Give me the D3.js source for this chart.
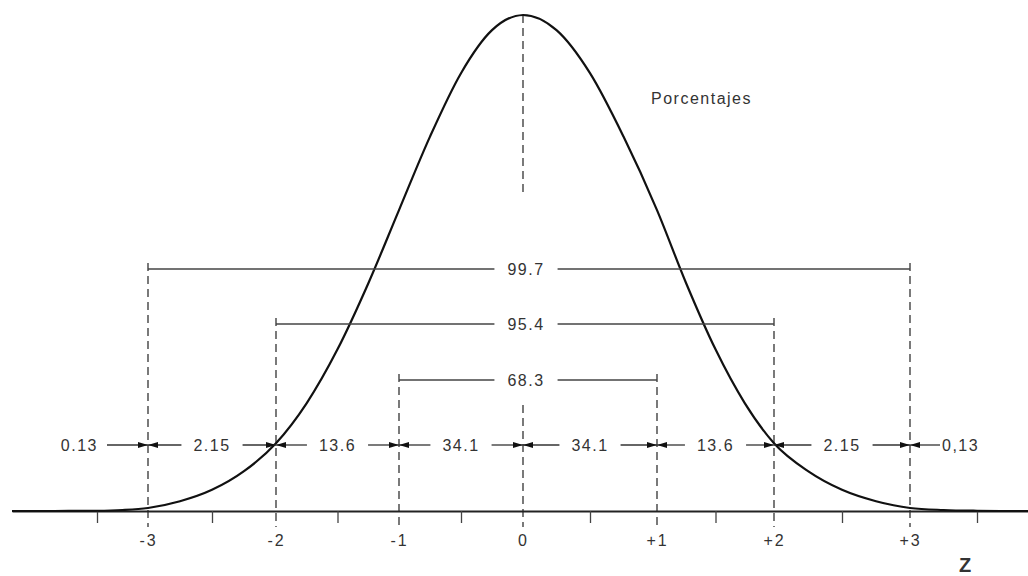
<!DOCTYPE html>
<html>
<head>
<meta charset="utf-8">
<script src="https://cdn.jsdelivr.net/npm/d3@7"></script>
<style>
  body { margin: 0; background: #fff; }
  text { font-family: "Liberation Sans", Arial, sans-serif; fill: #333; }
</style>
</head>
<body>
<svg id="chart" width="1028" height="576"></svg>
<script>
// z values and their labels on the axis
var zTicks = [-3, -2, -1, 0, 1, 2, 3];
var zTickLabels = ["-3", "-2", "-1", "0", "+1", "+2", "+3"];
var minorTicks = [-3.5, -2.5, -1.5, -0.5, 0.5, 1.5, 2.5, 3.5];

// curve heights (density units)
var curveZ = [-4, -3.75, -3.5, -3.25, -3, -2.75, -2.5, -2.25, -2, -1.75, -1.5, -1.25, -1, -0.75, -0.5, -0.25,
              0, 0.25, 0.5, 0.75, 1, 1.25, 1.5, 1.75, 2, 2.25, 2.5, 2.75, 3, 3.25, 3.5, 3.75, 4];
var curveDensity = [0, 0, 0.0002, 0.0008, 0.0024, 0.0078, 0.0170, 0.0320, 0.0545, 0.0868, 0.1300, 0.1830, 0.2420, 0.3011, 0.3521, 0.3867,
                    0.3989, 0.3867, 0.3521, 0.3011, 0.2420, 0.1830, 0.1300, 0.0868, 0.0545, 0.0320, 0.0170, 0.0078, 0.0024, 0.0008, 0.0002, 0, 0];

// brackets (percent between -k and +k)
var bracketFrom = [-3, -2, -1];
var bracketTo = [3, 2, 1];
var bracketLabels = ["99.7", "95.4", "68.3"];

// percent in each strip, from left tail to right tail
var stripLabels = ["0.13", "2.15", "13.6", "34.1", "34.1", "13.6", "2.15", "0,13"];

var svg = d3.select("#chart");

// hand drawn axis is a bit uneven, so piecewise scale
var x = d3.scaleLinear()
    .domain([-4, -3.5, -3, -2, -1, 0, 1, 2, 3, 3.5, 4])
    .range([12, 97, 148, 276, 399, 523, 657, 774, 910, 977, 1044]);
var y = d3.scaleLinear().domain([0, 0.3989]).range([511, 15]);

var bracketY = d3.scaleOrdinal().domain(bracketLabels).range([269, 324, 380]);
var rowY = 445;
var axisBottomY = 527;

//dashed verticals
var vSegs = [];
zTicks.forEach(function(z){
    if (z === 0){
        vSegs.push({z: z, y1: y(d3.max(curveDensity)), y2: 192});
        vSegs.push({z: z, y1: 405, y2: axisBottomY});
    } else {
        var i = bracketFrom.indexOf(z) >= 0 ? bracketFrom.indexOf(z) : bracketTo.indexOf(z);
        vSegs.push({z: z, y1: bracketY(bracketLabels[i]) - 6, y2: axisBottomY});
    }
});
svg.selectAll("line.vdash")
   .data(vSegs)
   .enter()
   .append("line")
   .attr("class", "vdash")
   .attr("x1", function(d){ return x(d.z); })
   .attr("x2", function(d){ return x(d.z); })
   .attr("y1", function(d){ return d.y1; })
   .attr("y2", function(d){ return d.y2; })
   .attr("stroke", "#333")
   .attr("stroke-width", 1.3)
   .attr("stroke-dasharray", "8,5");

//axis: minor ticks + line
var axisG = svg.append("g")
    .attr("transform", "translate(0," + y(0) + ")")
    .call(d3.axisBottom(x).tickValues(minorTicks).tickSize(12).tickSizeOuter(0).tickFormat(""));
axisG.select(".domain").attr("stroke", "#222").attr("stroke-width", 2.2);
axisG.selectAll(".tick line").attr("stroke", "#444").attr("stroke-width", 1.3);

var labG = svg.append("g")
    .attr("transform", "translate(0," + y(0) + ")")
    .call(d3.axisBottom(x).tickValues(zTicks).tickSize(0).tickPadding(24)
          .tickFormat(function(d, i){ return zTickLabels[i]; }));
labG.select(".domain").remove();
labG.selectAll("text")
    .style("font-size", "16px")
    .attr("letter-spacing", 2)
    .style("fill", "#333")
    .style("font-family", "'Liberation Sans', Arial, sans-serif");

svg.append("text")
   .attr("x", 965)
   .attr("y", 572)
   .attr("text-anchor", "middle")
   .attr("font-size", 20)
   .attr("font-weight", "bold")
   .text("Z");

//curve
var pts = curveZ.map(function(z, i){ return {z: z, p: curveDensity[i]}; });
var line = d3.line()
    .x(function(d){ return x(d.z); })
    .y(function(d){ return y(d.p); })
    .curve(d3.curveMonotoneX);
svg.append("path")
   .datum(pts)
   .attr("d", line)
   .attr("fill", "none")
   .attr("stroke", "#111")
   .attr("stroke-width", 2.2);

//brackets
bracketLabels.forEach(function(lab, i){
    var by = bracketY(lab);
    var t = svg.append("text")
        .attr("x", x(0) + 3)
        .attr("y", by)
        .attr("dy", "0.36em")
        .attr("text-anchor", "middle")
        .attr("font-size", 16)
        .attr("letter-spacing", 1.5)
        .text(lab);
    var bb = t.node().getBBox();
    var gap = 13;
    svg.append("line")
       .attr("x1", x(bracketFrom[i])).attr("x2", bb.x - gap)
       .attr("y1", by).attr("y2", by)
       .attr("stroke", "#444").attr("stroke-width", 1.3);
    svg.append("line")
       .attr("x1", bb.x + bb.width + gap).attr("x2", x(bracketTo[i]))
       .attr("y1", by).attr("y2", by)
       .attr("stroke", "#444").attr("stroke-width", 1.3);
});

//arrow row
function arrow(fromX, tipX){
    var dir = tipX > fromX ? 1 : -1;
    svg.append("line")
       .attr("x1", fromX).attr("x2", tipX)
       .attr("y1", rowY).attr("y2", rowY)
       .attr("stroke", "#333").attr("stroke-width", 1.3);
    svg.append("path")
       .attr("d", "M" + tipX + "," + rowY +
                  "L" + (tipX - dir * 10) + "," + (rowY - 3) +
                  "L" + (tipX - dir * 10) + "," + (rowY + 3) + "Z")
       .attr("fill", "#111");
}

stripLabels.forEach(function(lab, i){
    var t = svg.append("text")
        .attr("y", rowY)
        .attr("dy", "0.36em")
        .attr("font-size", 16)
        .attr("letter-spacing", 1.5)
        .text(lab);
    if (i === 0){
        t.attr("x", x(zTicks[0]) - 50).attr("text-anchor", "end");
        var bb = t.node().getBBox();
        arrow(bb.x + bb.width + 9, x(zTicks[0]));
    } else if (i === stripLabels.length - 1){
        t.attr("x", x(zTicks[zTicks.length - 1]) + 32).attr("text-anchor", "start");
        var bb2 = t.node().getBBox();
        arrow(bb2.x - 2, x(zTicks[zTicks.length - 1]));
    } else {
        var a = x(zTicks[i - 1]), b = x(zTicks[i]);
        t.attr("x", (a + b) / 2).attr("text-anchor", "middle");
        var bb3 = t.node().getBBox();
        arrow(bb3.x - 12, a);
        arrow(bb3.x + bb3.width + 12, b);
    }
});

svg.append("text")
   .attr("x", 651)
   .attr("y", 104)
   .attr("font-size", 16)
   .attr("letter-spacing", 1.5)
   .text("Porcentajes");
</script>
</body>
</html>
